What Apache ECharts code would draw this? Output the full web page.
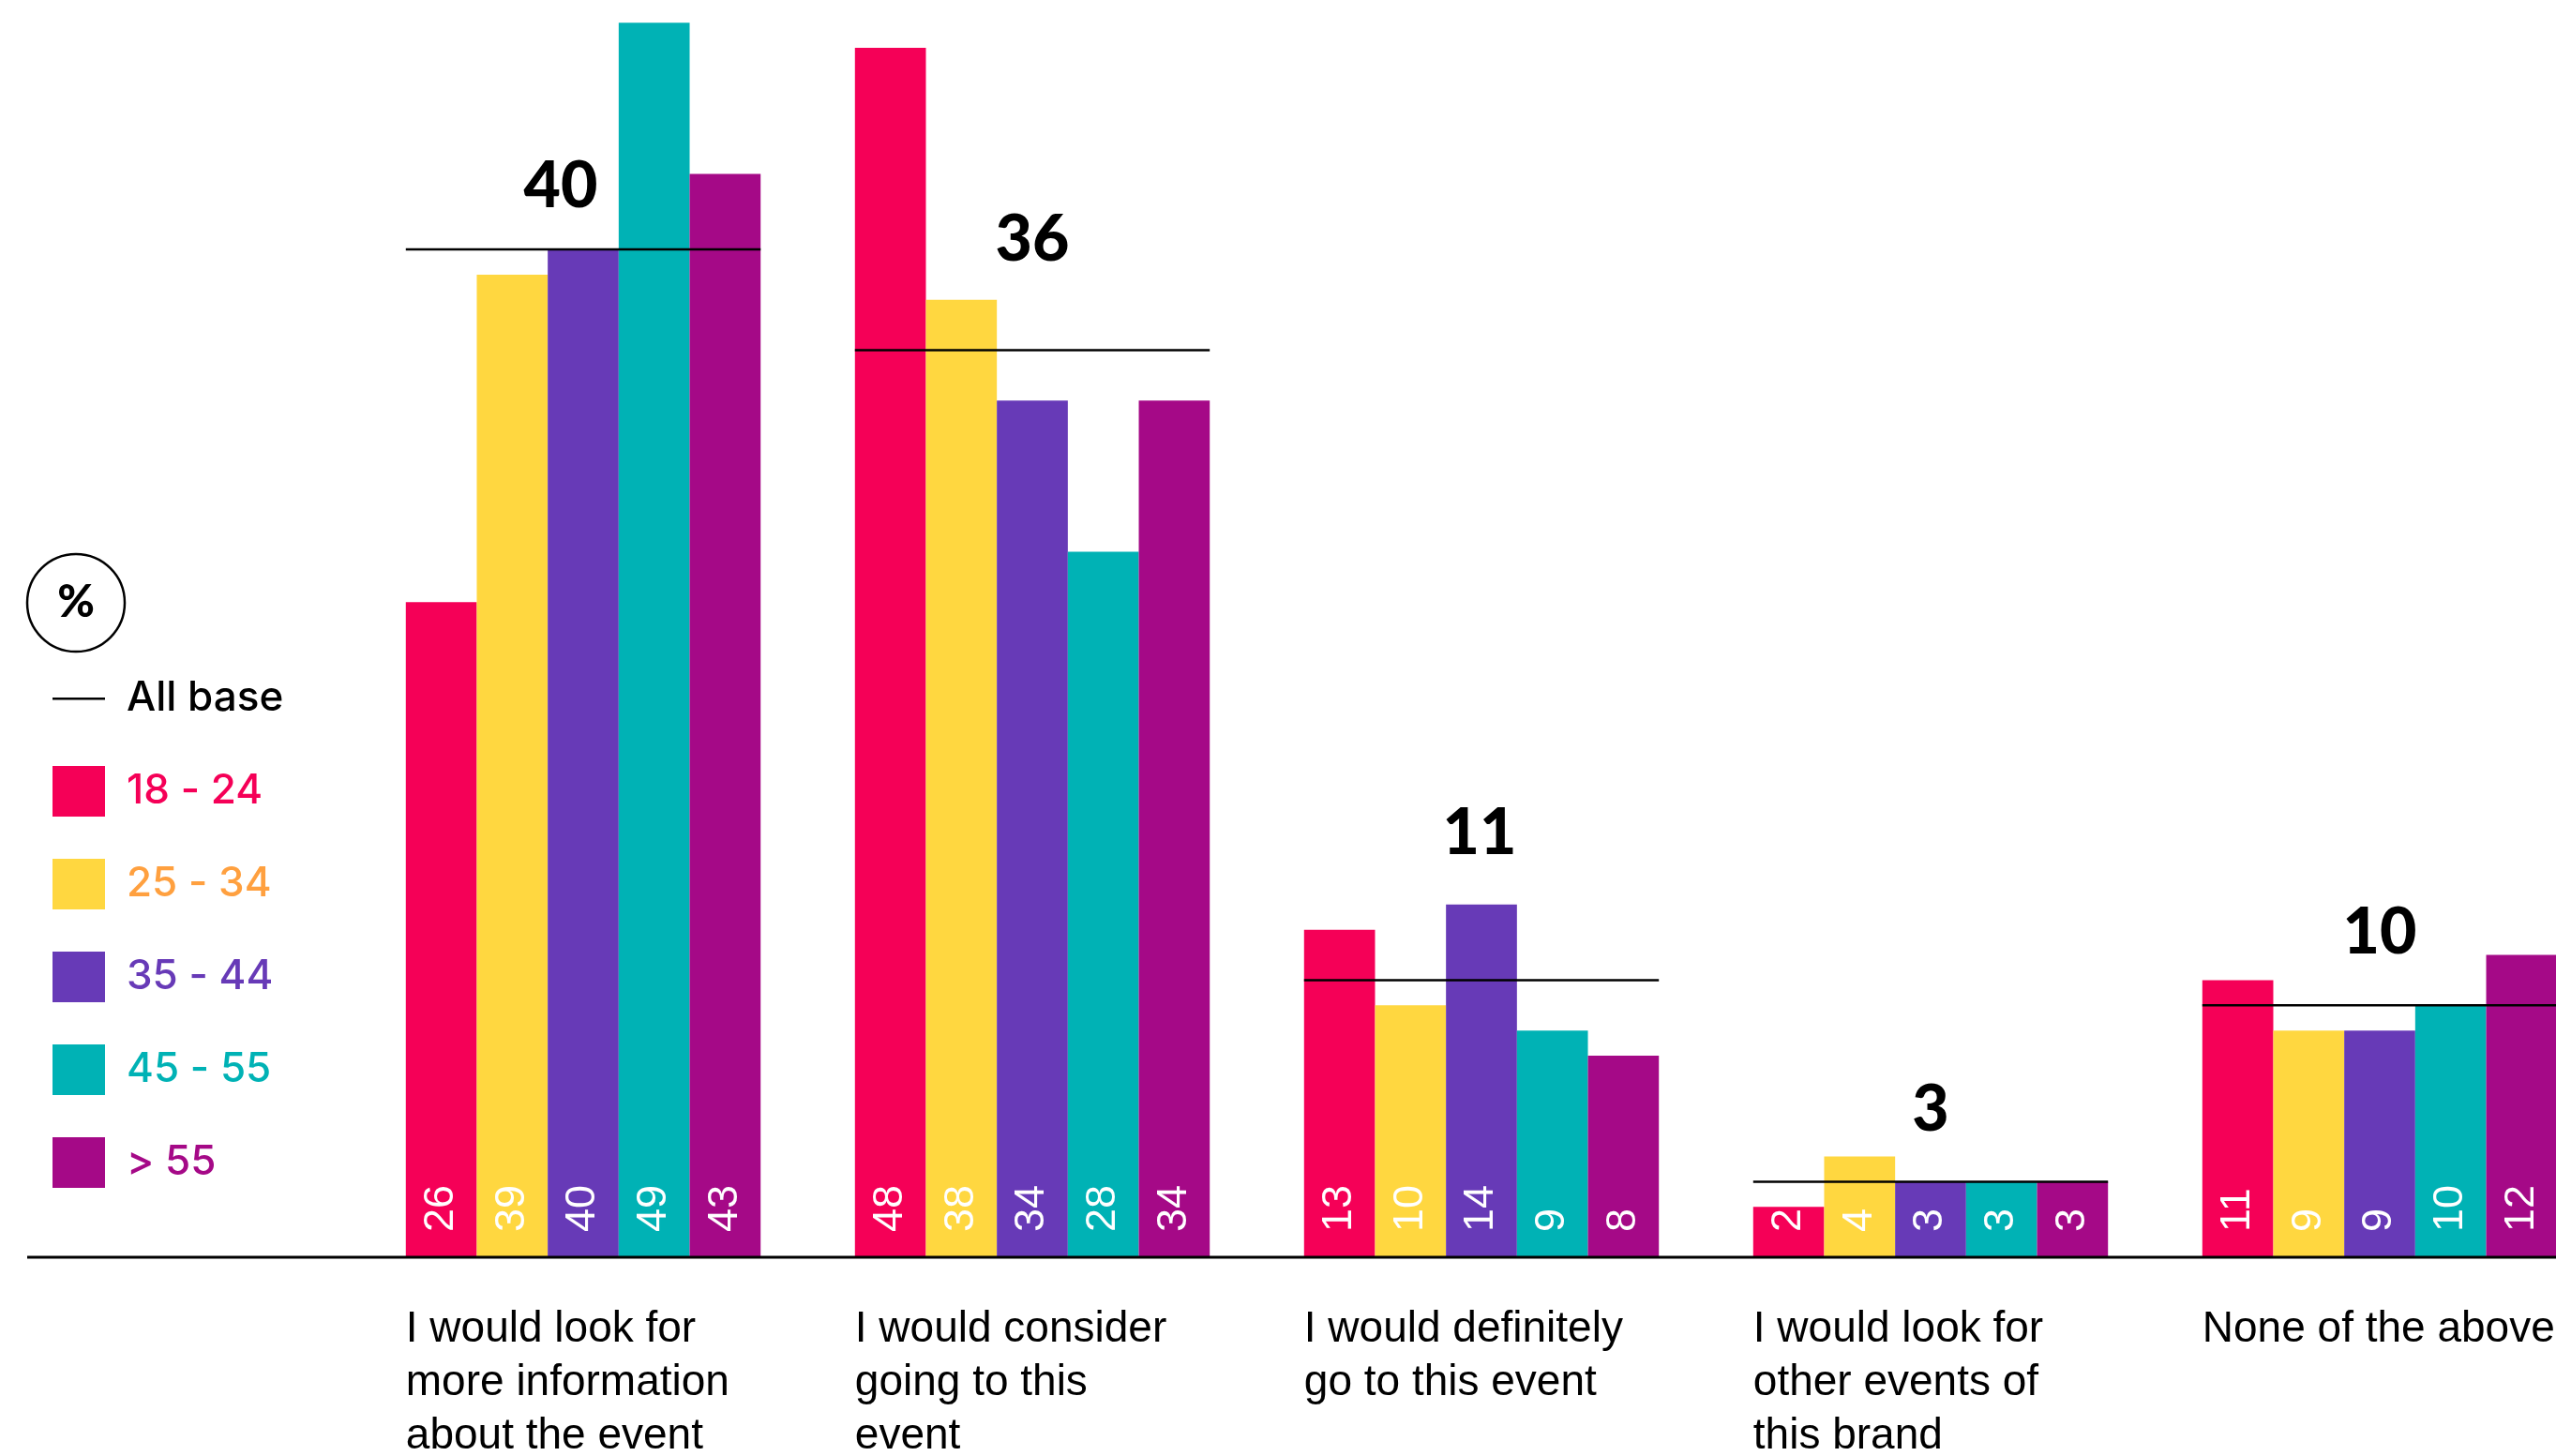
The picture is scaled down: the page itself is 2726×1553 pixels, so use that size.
<!DOCTYPE html>
<html>
<head>
<meta charset="utf-8">
<script src="https://cdn.jsdelivr.net/npm/echarts@6/dist/echarts.min.js"></script>
<style>
html,body{margin:0;padding:0;background:#fff;}
#chart{width:2726px;height:1553px;}
</style>
</head>
<body>
<div id="chart"></div>
<script>
// ---- data ----
const categories = [
  'I would look for\nmore information\nabout the event',
  'I would consider\ngoing to this\nevent',
  'I would definitely\ngo to this event',
  'I would look for\nother events of\nthis brand',
  'None of the above'
];
const seriesNames = ['18 - 24', '25 - 34', '35 - 44', '45 - 55', '> 55'];
const age18to24 = [26, 48, 13, 2, 11];
const age25to34 = [39, 38, 10, 4, 9];
const age35to44 = [40, 34, 14, 3, 9];
const age45to55 = [49, 28, 9, 3, 10];
const ageOver55 = [43, 34, 8, 3, 12];
const allBase = [40, 36, 11, 3, 10];

// ---- styling / layout ----
const barColors = ['#F50057', '#FFD740', '#673AB7', '#00B2B5', '#A50987'];
const legendTextColors = ['#F50057', '#FFA03F', '#673AB7', '#00B2B5', '#A50987'];
const gapRatio = 0.21;
const gridLeft = 382.5, gridWidth = 2395, gridTop = 0, gridBottomY = 1341;
const groupWidth = gridWidth / categories.length * (1 - gapRatio);
// pixel offsets of the "All base" number from the group centre / line
const labelOffsets = [[-24, -67], [0, -117], [-2, -156], [0, -76], [0, -77]];

const seriesValues = [age18to24, age25to34, age35to44, age45to55, ageOver55];

const chart = echarts.init(document.getElementById('chart'), null, {renderer: 'canvas'});

const barSeries = seriesValues.map((vals, i) => ({
  name: seriesNames[i],
  type: 'bar',
  data: vals,
  barGap: '0%',
  barCategoryGap: (gapRatio * 100) + '%',
  itemStyle: {color: barColors[i]},
  label: {
    show: true,
    position: 'insideBottom',
    distance: 27,
    rotate: 90,
    align: 'left',
    verticalAlign: 'middle',
    color: '#fff',
    fontFamily: 'Liberation Sans, Arial, sans-serif',
    fontSize: 45
  },
  emphasis: {disabled: true},
  z: 2
}));

const baseSeries = {
  name: 'All base',
  type: 'custom',
  data: allBase.map((v, i) => [i, v]),
  encode: {x: 0, y: 1},
  z: 5,
  renderItem: function (params, api) {
    const idx = api.value(0);
    const v = api.value(1);
    const p = api.coord([idx, v]);
    const band = api.size([1, 0])[0];
    const half = band * (1 - gapRatio) / 2;
    const off = labelOffsets[idx];
    return {
      type: 'group',
      children: [
        {type: 'line', shape: {x1: p[0] - half, y1: p[1], x2: p[0] + half, y2: p[1]},
         style: {stroke: '#000', lineWidth: 2.5}},
        {type: 'text', x: p[0] + off[0], y: p[1] + off[1],
         style: {text: String(v), fill: '#000', fontSize: 68, fontWeight: 900,
                 fontFamily: 'Lato, Inter, sans-serif', align: 'center', verticalAlign: 'middle'}}
      ]
    };
  }
};

const linePath = 'path://M0,0L0.01,0L0,0.01Z M0,26H56V28.5H0Z M55.99,54L56,54L56,53.99Z';

const option = {
  backgroundColor: '#fff',
  animation: false,
  grid: {left: gridLeft, width: gridWidth, top: gridTop, height: gridBottomY - gridTop,
         containLabel: false, outerBoundsMode: 'none'},
  legend: {
    orient: 'vertical',
    left: 51,
    top: 713,
    itemWidth: 56,
    itemHeight: 54,
    itemGap: 45,
    selectedMode: false,
    textStyle: {fontFamily: 'Inter, Liberation Sans, sans-serif', fontSize: 44, fontWeight: 500,
                padding: [0, 0, 0, 18], lineHeight: 54},
    data: [{name: 'All base', icon: linePath, itemStyle: {color: '#000'}, textStyle: {color: '#000'}}]
      .concat(seriesNames.map((n, i) => ({name: n, icon: 'rect', textStyle: {color: legendTextColors[i]}})))
  },
  xAxis: {
    type: 'category',
    data: categories,
    axisLine: {show: false},
    axisTick: {show: false},
    axisLabel: {
      interval: 0,
      margin: 49,
      align: 'center',
      verticalAlign: 'top',
      hideOverlap: false,
      formatter: function (val) {
        return val.split('\n').map(s => '{a|' + s + '}').join('\n');
      },
      rich: {
        a: {width: groupWidth, align: 'left', fontFamily: 'Liberation Sans, Arial, sans-serif',
            fontSize: 46, lineHeight: 57, color: '#000'}
      }
    }
  },
  yAxis: {
    type: 'value',
    min: 0,
    max: 49.9,
    show: false,
    splitLine: {show: false}
  },
  graphic: [
    {type: 'line', shape: {x1: 29, y1: gridBottomY, x2: 2726, y2: gridBottomY},
     style: {stroke: '#000', lineWidth: 3}, z: 10},
    {type: 'circle', shape: {cx: 81, cy: 643, r: 52},
     style: {fill: '#fff', stroke: '#000', lineWidth: 2.5}},
    {type: 'text', x: 81, y: 643,
     style: {text: '%', fill: '#000', fontSize: 48, fontWeight: 900,
             fontFamily: 'Lato, Inter, sans-serif', align: 'center', verticalAlign: 'middle'}}
  ],
  series: barSeries.concat([baseSeries])
};

chart.setOption(option);
</script>
</body>
</html>
